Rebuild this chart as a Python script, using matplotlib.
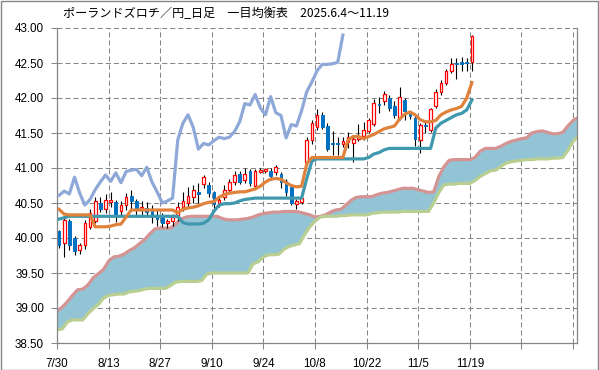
import matplotlib
matplotlib.use('Agg')
import matplotlib.pyplot as plt
import numpy as np
from matplotlib.patches import Rectangle

plt.rcParams['font.family'] = ['Liberation Sans', 'DejaVu Sans']
plt.rcParams['lines.scale_dashes'] = False

title = 'ポーランドズロチ／円_日足　一目均衡表　2025.6.4～11.19'
x_labels = ['7/30', '8/13', '8/27', '9/10', '9/24', '10/8', '10/22', '11/5', '11/19', '', '']
y_ticks = [38.5, 39.0, 39.5, 40.0, 40.5, 41.0, 41.5, 42.0, 42.5, 43.0]

open_ = [40.10, 39.93, 40.24, 40.00, 39.83, 39.90, 40.16, 40.25, 40.50, 40.41,
         40.52, 40.52, 40.38, 40.47, 40.60, 40.53, 40.41, 40.43, 40.40, 40.33,
         40.31, 40.22, 40.25, 40.30, 40.44, 40.50, 40.58, 40.66, 40.77, 40.76,
         40.65, 40.50, 40.59, 40.68, 40.80, 40.92, 40.83, 40.95, 40.74, 40.95,
         40.96, 40.96, 40.95, 40.91, 40.82, 40.73, 40.49, 40.52, 41.08, 41.40,
         41.59, 41.76, 41.60, 41.36, 41.36, 41.35, 41.37, 41.36, 41.42, 41.46,
         41.53, 41.63, 41.92, 41.96, 42.00, 41.88, 41.71, 41.97, 41.77, 41.72,
         41.40, 41.62, 41.55, 41.89, 42.08, 42.22, 42.39, 42.50, 42.51, 42.51,
         42.51]
high = [40.12, 40.28, 40.27, 40.03, 39.93, 40.26, 40.41, 40.58, 40.58, 40.63,
        40.66, 40.55, 40.53, 40.64, 40.68, 40.56, 40.53, 40.52, 40.47, 40.40,
        40.36, 40.27, 40.35, 40.52, 40.66, 40.73, 40.76, 40.78, 40.90, 40.80,
        40.67, 40.58, 40.76, 40.84, 40.96, 40.96, 41.00, 40.99, 40.98, 41.00,
        41.00, 41.00, 41.04, 40.94, 40.85, 40.75, 40.56, 40.66, 41.45, 41.68,
        41.84, 41.80, 41.64, 41.53, 41.45, 41.45, 41.52, 41.45, 41.63, 41.66,
        41.72, 41.99, 42.02, 42.10, 42.04, 41.96, 42.16, 42.00, 41.80, 41.74,
        41.64, 41.66, 41.86, 42.13, 42.26, 42.42, 42.57, 42.57, 42.58, 42.57,
        42.90]
low = [39.86, 39.73, 39.83, 39.76, 39.77, 39.85, 40.13, 40.22, 40.37, 40.36,
       40.45, 40.23, 40.32, 40.40, 40.42, 40.31, 40.30, 40.31, 40.22, 40.17,
       40.16, 40.15, 40.17, 40.25, 40.38, 40.45, 40.50, 40.50, 40.72, 40.59,
       40.40, 40.45, 40.55, 40.64, 40.76, 40.77, 40.78, 40.74, 40.72, 40.93,
       40.93, 40.83, 40.90, 40.72, 40.60, 40.47, 40.42, 40.48, 41.05, 41.35,
       41.55, 41.56, 41.25, 41.19, 41.18, 41.30, 41.28, 41.09, 41.38, 41.40,
       41.50, 41.60, 41.78, 41.90, 41.82, 41.72, 41.68, 41.68, 41.70, 41.32,
       41.22, 41.50, 41.52, 41.86, 42.05, 42.18, 42.36, 42.27, 42.38, 42.38,
       42.38]
close = [39.90, 40.26, 39.90, 39.82, 39.90, 40.22, 40.35, 40.53, 40.42, 40.55,
         40.55, 40.35, 40.47, 40.59, 40.53, 40.42, 40.44, 40.37, 40.30, 40.27,
         40.22, 40.24, 40.30, 40.44, 40.53, 40.60, 40.68, 40.63, 40.87, 40.64,
         40.48, 40.54, 40.69, 40.80, 40.90, 40.80, 40.92, 40.78, 40.95, 40.97,
         40.98, 40.89, 41.01, 40.80, 40.66, 40.50, 40.53, 40.57, 41.40, 41.64,
         41.76, 41.59, 41.27, 41.34, 41.34, 41.39, 41.45, 41.41, 41.44, 41.54,
         41.69, 41.93, 41.90, 42.05, 41.86, 41.76, 42.02, 41.81, 41.75, 41.42,
         41.62, 41.60, 41.84, 42.08, 42.22, 42.38, 42.48, 42.48, 42.49, 42.50,
         42.89]

tenkan = [40.41, 40.34, 40.33, 40.33, 40.33, 40.33, 40.33, 40.16, 40.16, 40.16,
          40.17, 40.19, 40.20, 40.30, 40.40, 40.40, 40.40, 40.40, 40.40, 40.40,
          40.40, 40.40, 40.40, 40.36, 40.41, 40.43, 40.44, 40.46, 40.49, 40.51,
          40.52, 40.58, 40.62, 40.64, 40.65, 40.66, 40.66, 40.68, 40.70, 40.74,
          40.80, 40.84, 40.85, 40.84, 40.79, 40.75, 40.73, 40.74, 41.06, 41.15,
          41.15, 41.15, 41.15, 41.15, 41.15, 41.15, 41.40, 41.45, 41.45, 41.42,
          41.45, 41.48, 41.52, 41.56, 41.58, 41.60, 41.70, 41.77, 41.80, 41.76,
          41.69, 41.66, 41.66, 41.68, 41.76, 41.80, 41.83, 41.85, 41.88, 42.00,
          42.22]
kijun = [40.27, 40.29, 40.31, 40.31, 40.31, 40.31, 40.31, 40.31, 40.31, 40.31,
         40.31, 40.31, 40.31, 40.31, 40.31, 40.31, 40.31, 40.31, 40.31, 40.31,
         40.31, 40.31, 40.31, 40.31, 40.22, 40.20, 40.20, 40.20, 40.21, 40.26,
         40.38, 40.47, 40.49, 40.49, 40.50, 40.53, 40.55, 40.56, 40.57, 40.57,
         40.57, 40.57, 40.57, 40.57, 40.57, 40.57, 40.57, 40.57, 40.85, 41.10,
         41.13, 41.13, 41.13, 41.13, 41.13, 41.13, 41.13, 41.13, 41.13, 41.13,
         41.15, 41.20, 41.22, 41.26, 41.28, 41.28, 41.28, 41.28, 41.28, 41.28,
         41.28, 41.28, 41.28, 41.57, 41.64, 41.68, 41.72, 41.76, 41.78, 41.83,
         41.97]
chikou = [40.61, 40.67, 40.63, 40.87, 40.64, 40.47, 40.55, 40.69, 40.80, 40.90,
          40.81, 40.93, 40.79, 40.95, 40.97, 40.98, 40.89, 41.01, 40.80, 40.66,
          40.50, 40.53, 40.57, 41.40, 41.64, 41.76, 41.58, 41.27, 41.35, 41.33,
          41.39, 41.44, 41.42, 41.44, 41.52, 41.66, 41.92, 41.90, 42.05, 41.86,
          41.76, 42.02, 41.79, 41.75, 41.43, 41.62, 41.60, 41.82, 42.09, 42.23,
          42.39, 42.48, 42.48, 42.49, 42.51, 42.90]
senkou_a = [38.96, 39.01, 39.09, 39.18, 39.26, 39.27, 39.33, 39.43, 39.49, 39.55,
            39.67, 39.73, 39.74, 39.77, 39.82, 39.86, 39.92, 39.98, 40.06, 40.13,
            40.14, 40.14, 40.14, 40.20, 40.27, 40.30, 40.31, 40.31, 40.31, 40.31,
            40.31, 40.31, 40.28, 40.26, 40.26, 40.26, 40.27, 40.28, 40.30, 40.33,
            40.35, 40.36, 40.37, 40.37, 40.38, 40.38, 40.38, 40.37, 40.35, 40.33,
            40.30, 40.31, 40.33, 40.37, 40.40, 40.41, 40.47, 40.54, 40.58, 40.59,
            40.59, 40.59, 40.62, 40.64, 40.65, 40.67, 40.69, 40.71, 40.71, 40.71,
            40.69, 40.67, 40.65, 40.66, 40.88, 41.02, 41.11, 41.12, 41.12, 41.12,
            41.12, 41.15, 41.24, 41.28, 41.28, 41.28, 41.31, 41.35, 41.38, 41.40,
            41.42, 41.43, 41.50, 41.52, 41.53, 41.51, 41.49, 41.49, 41.51, 41.60,
            41.68, 41.72]
senkou_b = [38.69, 38.70, 38.80, 38.83, 38.83, 38.83, 38.92, 38.99, 39.05, 39.14,
            39.18, 39.19, 39.20, 39.20, 39.23, 39.24, 39.25, 39.27, 39.28, 39.28,
            39.28, 39.28, 39.32, 39.37, 39.38, 39.38, 39.38, 39.38, 39.39, 39.48,
            39.50, 39.50, 39.50, 39.50, 39.50, 39.50, 39.50, 39.50, 39.63, 39.66,
            39.73, 39.76, 39.76, 39.77, 39.84, 39.88, 39.90, 39.92, 40.05, 40.16,
            40.24, 40.30, 40.31, 40.31, 40.31, 40.32, 40.32, 40.33, 40.33, 40.33,
            40.33, 40.35, 40.36, 40.37, 40.37, 40.37, 40.37, 40.38, 40.38, 40.38,
            40.38, 40.38, 40.38, 40.50, 40.65, 40.76, 40.77, 40.77, 40.78, 40.78,
            40.78, 40.82, 40.88, 40.92, 40.96, 40.97, 41.02, 41.07, 41.09, 41.10,
            41.11, 41.12, 41.12, 41.13, 41.13, 41.13, 41.14, 41.14, 41.15, 41.25,
            41.38, 41.45]

W, H = 599, 370
fig = plt.figure(figsize=(W / 100, H / 100), dpi=100)
ax = fig.add_axes([57 / W, 27 / H, 520 / W, 315 / H])

grey = '#868686'
# cloud
xc = np.arange(len(senkou_a))
ax.fill_between(xc, senkou_a, senkou_b, color='#93C4D6', lw=0, zorder=1)
ax.plot(xc, senkou_a, color='#D49494', lw=2.3, zorder=2, solid_capstyle='butt')
ax.plot(xc, senkou_b, color='#B9CF91', lw=2.3, zorder=2, solid_capstyle='butt')

off = 0.4
xk = np.arange(len(chikou)) + off
ax.plot(xk, chikou, color='#8EA9D8', lw=2.3, zorder=3)

# candles
o = np.array(open_); h = np.array(high); l = np.array(low); c = np.array(close)
xs = np.arange(len(o)) + off
ax.vlines(xs, l, h, color='black', lw=0.8, zorder=4)
bot = np.minimum(o, c)
ht = np.maximum(np.abs(c - o), 0.008)
up = c >= o
ax.bar(xs[up], ht[up], bottom=bot[up], width=0.52, facecolor='white',
       edgecolor='#FF0000', lw=0.9, zorder=5)
ax.bar(xs[~up], ht[~up], bottom=bot[~up], width=0.52, facecolor='#0070C0',
       edgecolor='#0070C0', lw=0.7, zorder=5)

xt = np.arange(len(tenkan)) + off
ax.plot(xt, kijun, color='#3F98AE', lw=2.3, zorder=6)
ax.plot(xt, tenkan, color='#E0823C', lw=2.3, zorder=7)

ax.set_xlim(0, 100.77)
ax.set_ylim(38.5, 43.0)
ax.set_xticks(np.arange(0, 101, 10))
ax.set_xticklabels(x_labels)
ax.set_yticks(y_ticks)
ax.set_yticklabels(['%.2f' % v for v in y_ticks])

ax.grid(True, color=grey, lw=0.75, linestyle=(0, (3.6, 2.2)), zorder=0)
ax.set_axisbelow(True)
for s in ['left', 'bottom', 'right']:
    ax.spines[s].set_color(grey)
    ax.spines[s].set_linewidth(0.9)
ax.spines['top'].set_visible(False)
ax.tick_params(axis='both', direction='out', length=4.3, width=0.75, color=grey,
               labelsize=8.4, labelcolor='black')
ax.tick_params(axis='y', pad=5.0)
ax.tick_params(axis='x', pad=6.3)

fig.text(63 / W, 1 - 14 / H, title, fontsize=8.7, va='center', ha='left',
         family=['Noto Sans CJK JP', 'DejaVu Sans'])

fig.patches.append(Rectangle((0.5 / W, 0.5 / H), (W - 1.5) / W, (H - 1.5) / H,
                             transform=fig.transFigure, fill=False,
                             edgecolor=grey, lw=1.0))

fig.savefig('out.png', dpi=100)
